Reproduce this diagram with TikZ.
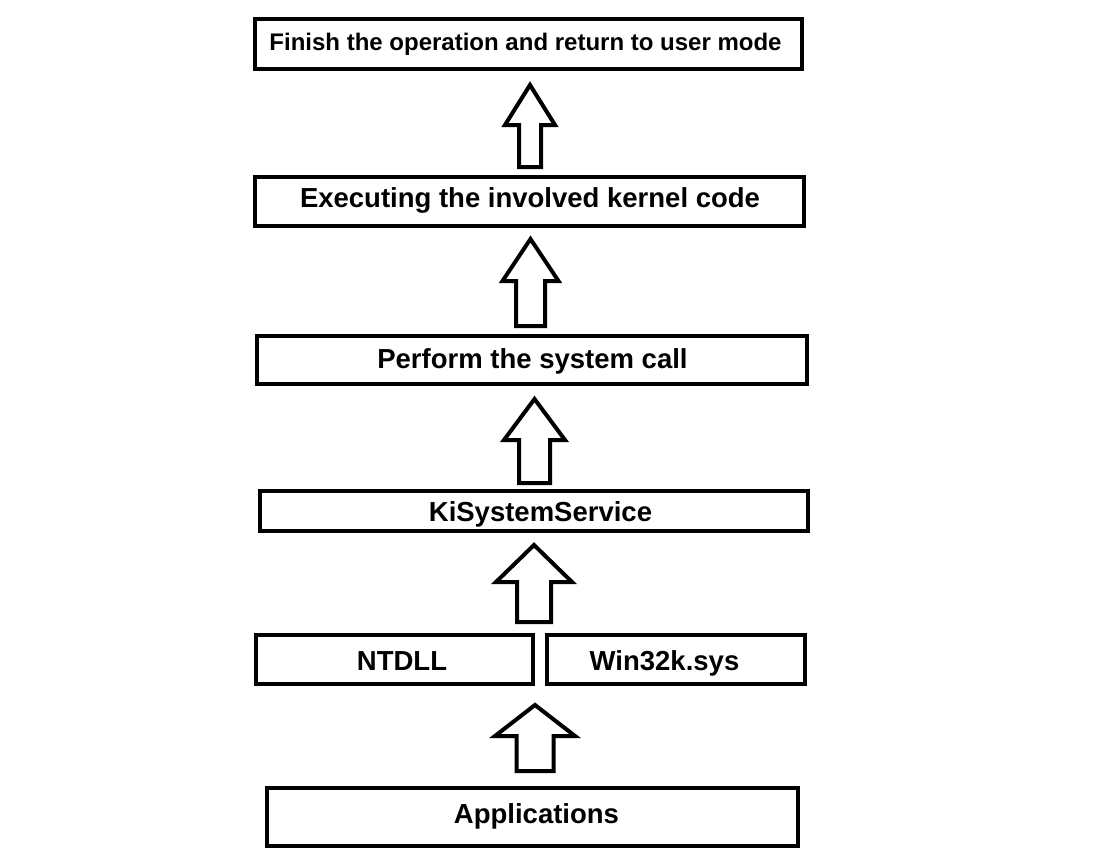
\documentclass[tikz,border=0pt]{standalone}
\usepackage{fontspec}
\setmainfont{Liberation Sans}
\begin{document}
\begin{tikzpicture}[x=1pt,y=-1pt,
  box/.style={draw=black,line width=4pt,inner sep=0pt},
  txt/.style={font=\bfseries\fontsize{27.5}{30}\selectfont,inner sep=0pt,anchor=base},
  blk/.style={draw=black,line width=4pt,line join=miter,fill=white}]
\useasboundingbox[fill=white] (0,0) rectangle (1117,859);
\newcommand{\uparr}[6]{% x, tip, base, bottom, headhalf, shafthalf
  \draw[blk] (#1,#2) -- (#1+#5,#3) -- (#1+#6,#3) -- (#1+#6,#4) -- (#1-#6,#4) -- (#1-#6,#3) -- (#1-#5,#3) -- cycle;}
\node[box,minimum width=547pt,minimum height=50pt] (b1) at (528.5,44) {};
\node[txt,font=\bfseries\fontsize{24}{28}\selectfont] (t1) at (525.5,51) {Finish the operation and return to user mode};
\node[box,minimum width=549pt,minimum height=49pt] (b2) at (529.5,201.5) {};
\node[txt] (t2) at (530,207) {Executing the involved kernel code};
\node[box,minimum width=550pt,minimum height=48pt] (b3) at (532,360) {};
\node[txt] (t3) at (532.5,368) {Perform the system call};
\node[box,minimum width=548pt,minimum height=40pt] (b4) at (534,511) {};
\node[txt] (t4) at (540.5,521) {KiSystemService};
\node[box,minimum width=277pt,minimum height=49pt] (b5a) at (394.5,659.5) {};
\node[txt] (t5a) at (402,670) {NTDLL};
\node[box,minimum width=258pt,minimum height=49pt] (b5b) at (676,659.5) {};
\node[txt] (t5b) at (664.5,670) {Win32k.sys};
\node[box,minimum width=531pt,minimum height=58pt] (b6) at (532.5,817) {};
\node[txt] (t6) at (536.5,823) {Applications};
\uparr{530}{85}{125}{167}{25}{11}
\uparr{530.5}{239}{281}{326}{28}{14.5}
\uparr{534.5}{399}{440}{483}{30.5}{15.5}
\uparr{534}{545}{582}{622}{38}{17}
\uparr{535}{705}{736}{771}{40}{18.5}
\end{tikzpicture}
\end{document}
